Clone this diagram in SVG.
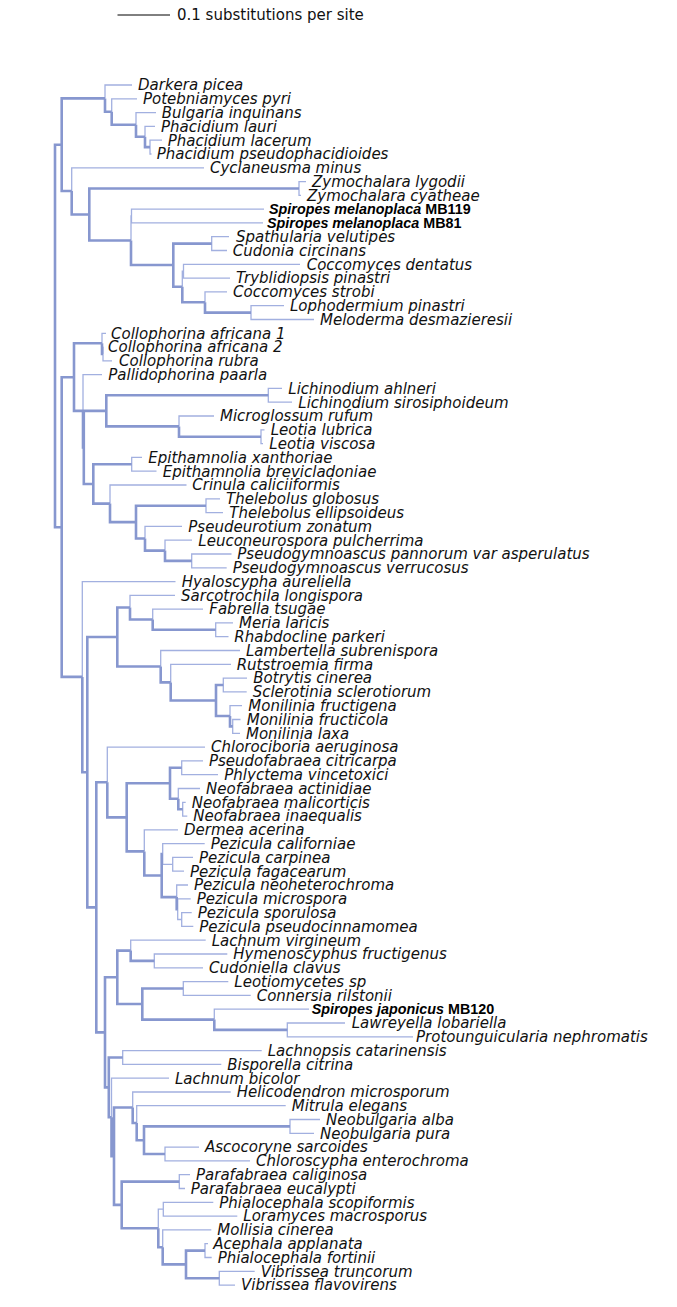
<svg xmlns="http://www.w3.org/2000/svg" width="677" height="1307" viewBox="0 0 677 1307">
<style>
.t{fill:none;stroke:#8797cf;stroke-width:2.6}
.n{fill:none;stroke:#a2b0e0;stroke-width:1.3}
.l{font-family:"DejaVu Sans","Noto Sans",sans-serif;font-style:italic;font-size:15px;fill:#111}
.b{font-family:"Liberation Sans",Arial,sans-serif;font-weight:bold;font-size:14.35px;fill:#000}
.s{font-family:"DejaVu Sans","Noto Sans",sans-serif;font-size:15px;fill:#111}
</style>
<rect width="677" height="1307" fill="#fff"/>
<g id="scale">
<path d="M117.5 15H170" stroke="#000" stroke-width="1"/>
<text class="s" x="177" y="20.3">0.1 substitutions per site</text>
</g>
<g id="connectors">
<path class="n" d="M105 98.4V85H132M111.7 111.7V98.8H137M136 124.7V112.6H156M145 136.8V126.4H155M150 147.1V140.2H162M150 147.1V154H151.5M71.7 191V167.8H204M299 188.5V181.6H306M299 188.5V195.3H301M131 240.5V216H131.5M131.5 216V209.1H264M131.5 216V222.9H263M211.7 243.6V236.7H229M211.7 243.6V250.5H227M182.3 286.7V271.2H183.5M183.5 271.2V264.3H300M183.5 271.2V278.1H230M205 302.2V291.9H227M251 312.6V305.7H284M251 312.6V319.5H314M102 343.3V333.3H106M103 354V347.1H103.5M103 354V360.9H112M83 410.9V374.7H102M268.3 395.3V388.4H282M268.3 395.3V402.2H292M179 426.4V416H214M261 436.7V429.8H264.5M261 436.7V443.6H263M131.7 464.3V457.4H142M131.7 464.3V471.2H156.5M110 503.6V485H186.5M206 505.7V498.8H220M206 505.7V512.6H223M145 538.5V526.4H182M165 550.6V540.2H192M191.7 560.9V554H231.5M191.7 560.9V567.8H226.7M82.3 676.9V581.6H175.5M130 607.5V595.4H175M152.7 619.5V609.1H203M215.7 629.8V622.9H233M215.7 629.8V636.7H228.5M160.7 666.5V650.5H240M170.7 682.4V664.3H231M223.3 685V678.1H247M223.3 685V691.9H246.7M230 716V705.7H242M232.7 726.4V719.5H240.5M232.7 726.4V733.3H240M107.3 782.3V747.1H205M181.7 767.8V760.9H203M181.7 767.8V774.7H218M178.3 798.8V788.5H200M182.7 809.2V802.3H185.7M182.7 809.2V816.1H187.3M144.3 851.4V829.8H178M162.7 854V843.6H204.7M162.7 854V864.3H172.7M172.7 864.3V857.4H193M172.7 864.3V871.2H184M176.7 897.1V885H188M177.7 909.2V898.8H190.7M177.7 909.2V919.5H181.7M181.7 919.5V912.6H191.7M181.7 919.5V926.4H193.3M130.7 950.6V940.2H205.7M154.3 960.9V954H227.3M154.3 960.9V967.8H203M183.3 988.5V981.6H228.3M183.3 988.5V995.4H250.7M214.3 1019.6V1009.2H309M287.3 1029.9V1023H345M287.3 1029.9V1036.8H413M122.7 1057.5V1050.6H261.7M122.7 1057.5V1064.4H221.3M111.5 1117.2V1078.2H169M132.7 1107.5V1092H230.7M136.7 1123V1105.7H285.7M290 1126.4V1119.5H320M290 1126.4V1133.3H314M165 1154V1147.1H199M165 1154V1160.9H250M179.3 1181.6V1174.7H190M179.3 1181.6V1188.5H185M158.3 1228.2V1209.2H163.3M163.3 1209.2V1202.3H213.3M163.3 1209.2V1216.1H237.3M162.7 1247.2V1229.9H211.3M205 1250.6V1243.7H208M205 1250.6V1257.5H211.7M219.3 1278.2V1271.3H254.7M219.3 1278.2V1285.1H235"/>
<path class="t" d="M55 336V144.7H61.7M55 336V527.2H61.7M61.7 144.7V98.4H105M61.7 144.7V191H71.7M105 98.4V111.7H111.7M111.7 111.7V124.7H136M136 124.7V136.8H145M145 136.8V147.1H150M71.7 191V214.5H89.3M89.3 214.5V188.5H299M89.3 214.5V240.5H131M131 240.5V265H173.3M173.3 265V243.6H211.7M173.3 265V286.7H182.3M182.3 286.7V302.2H205M205 302.2V312.6H251M61.7 527.2V377.3H74M61.7 527.2V676.9H82.3M74 377.3V343.3H102M74 377.3V410.9H83M102 343.3V354H103M83 410.9V447.5H83.8M83.8 447.5V410.9H106.3M83.8 447.5V484H93.3M106.3 410.9V395.3H268.3M106.3 410.9V426.4H179M179 426.4V436.7H261M93.3 484V464.3H131.7M93.3 484V503.6H110M110 503.6V522.1H136M136 522.1V505.7H206M136 522.1V538.5H145M145 538.5V550.6H165M165 550.6V560.9H191.7M82.3 676.9V772.2H87.3M87.3 772.2V637H117.3M87.3 772.2V907.4H96.3M117.3 637V607.5H130M117.3 637V666.5H160.7M130 607.5V619.5H152.7M152.7 619.5V629.8H215.7M160.7 666.5V682.4H170.7M170.7 682.4V700.5H216M216 700.5V685H223.3M216 700.5V716H230M230 716V726.4H232.7M96.3 907.4V782.3H107.3M96.3 907.4V1032.4H105M107.3 782.3V817.4H126.7M126.7 817.4V783.3H170M126.7 817.4V851.4H144.3M170 783.3V767.8H181.7M170 783.3V798.8H178.3M178.3 798.8V809.2H182.7M144.3 851.4V875.5H161.7M161.7 875.5V854H162.7M161.7 875.5V897.1H176.7M176.7 897.1V909.2H177.7M105 1032.4V977.3H117.3M105 1032.4V1087.4H108.8M117.3 977.3V950.6H130.7M117.3 977.3V1004H142.3M130.7 950.6V960.9H154.3M142.3 1004V988.5H183.3M142.3 1004V1019.6H214.3M214.3 1019.6V1029.9H287.3M108.8 1087.4V1057.5H122.7M108.8 1087.4V1117.2H111.5M111.5 1117.2V1156.2H114M114 1156.2V1107.5H132.7M114 1156.2V1204.9H121.7M132.7 1107.5V1123H136.7M136.7 1123V1140.2H144M144 1140.2V1126.4H290M144 1140.2V1154H165M121.7 1204.9V1181.6H179.3M121.7 1204.9V1228.2H158.3M158.3 1228.2V1247.2H162.7M162.7 1247.2V1264.4H186M186 1264.4V1250.6H205M186 1264.4V1278.2H219.3"/>
</g>
<g id="leaf01"><text class="l" x="138" y="90.3">Darkera picea</text></g>
<g id="leaf02"><text class="l" x="143" y="104.1">Potebniamyces pyri</text></g>
<g id="leaf03"><text class="l" x="161.7" y="117.9">Bulgaria inquinans</text></g>
<g id="leaf04"><text class="l" x="161" y="131.7">Phacidium lauri</text></g>
<g id="leaf05"><text class="l" x="167.7" y="145.5">Phacidium lacerum</text></g>
<g id="leaf06"><text class="l" x="156.7" y="159.3">Phacidium pseudophacidioides</text></g>
<g id="leaf07"><text class="l" x="210" y="173.1">Cyclaneusma minus</text></g>
<g id="leaf08"><text class="l" x="312" y="186.9">Zymochalara lygodii</text></g>
<g id="leaf09"><text class="l" x="307" y="200.6">Zymochalara cyatheae</text></g>
<g id="leaf10"><text class="b" x="269" y="214.2"><tspan font-style="italic">Spiropes melanoplaca</tspan> MB119</text></g>
<g id="leaf11"><text class="b" x="267" y="228"><tspan font-style="italic">Spiropes melanoplaca</tspan> MB81</text></g>
<g id="leaf12"><text class="l" x="236" y="242">Spathularia velutipes</text></g>
<g id="leaf13"><text class="l" x="232.7" y="255.8">Cudonia circinans</text></g>
<g id="leaf14"><text class="l" x="306.7" y="269.6">Coccomyces dentatus</text></g>
<g id="leaf15"><text class="l" x="236" y="283.4">Tryblidiopsis pinastri</text></g>
<g id="leaf16"><text class="l" x="233" y="297.2">Coccomyces strobi</text></g>
<g id="leaf17"><text class="l" x="290" y="311">Lophodermium pinastri</text></g>
<g id="leaf18"><text class="l" x="320" y="324.8">Meloderma desmazieresii</text></g>
<g id="leaf19"><text class="l" x="111" y="338.6">Collophorina africana 1</text></g>
<g id="leaf20"><text class="l" x="108" y="352.4">Collophorina africana 2</text></g>
<g id="leaf21"><text class="l" x="119" y="366.2">Collophorina rubra</text></g>
<g id="leaf22"><text class="l" x="108.3" y="380">Pallidophorina paarla</text></g>
<g id="leaf23"><text class="l" x="288.3" y="393.7">Lichinodium ahlneri</text></g>
<g id="leaf24"><text class="l" x="298.3" y="407.5">Lichinodium sirosiphoideum</text></g>
<g id="leaf25"><text class="l" x="220" y="421.3">Microglossum rufum</text></g>
<g id="leaf26"><text class="l" x="270.7" y="435.1">Leotia lubrica</text></g>
<g id="leaf27"><text class="l" x="269.3" y="448.9">Leotia viscosa</text></g>
<g id="leaf28"><text class="l" x="148.3" y="462.7">Epithamnolia xanthoriae</text></g>
<g id="leaf29"><text class="l" x="162.7" y="476.5">Epithamnolia brevicladoniae</text></g>
<g id="leaf30"><text class="l" x="192.3" y="490.3">Crinula caliciiformis</text></g>
<g id="leaf31"><text class="l" x="226" y="504.1">Thelebolus globosus</text></g>
<g id="leaf32"><text class="l" x="229.3" y="517.9">Thelebolus ellipsoideus</text></g>
<g id="leaf33"><text class="l" x="188.3" y="531.7">Pseudeurotium zonatum</text></g>
<g id="leaf34"><text class="l" x="198.3" y="545.5">Leuconeurospora pulcherrima</text></g>
<g id="leaf35"><text class="l" x="237.3" y="559.3">Pseudogymnoascus pannorum var asperulatus</text></g>
<g id="leaf36"><text class="l" x="232.7" y="573.1">Pseudogymnoascus verrucosus</text></g>
<g id="leaf37"><text class="l" x="181.7" y="586.9">Hyaloscypha aureliella</text></g>
<g id="leaf38"><text class="l" x="181" y="600.7">Sarcotrochila longispora</text></g>
<g id="leaf39"><text class="l" x="209.3" y="614.4">Fabrella tsugae</text></g>
<g id="leaf40"><text class="l" x="239" y="628.2">Meria laricis</text></g>
<g id="leaf41"><text class="l" x="234.3" y="642">Rhabdocline parkeri</text></g>
<g id="leaf42"><text class="l" x="246" y="655.8">Lambertella subrenispora</text></g>
<g id="leaf43"><text class="l" x="236.7" y="669.6">Rutstroemia firma</text></g>
<g id="leaf44"><text class="l" x="253.3" y="683.4">Botrytis cinerea</text></g>
<g id="leaf45"><text class="l" x="252.7" y="697.2">Sclerotinia sclerotiorum</text></g>
<g id="leaf46"><text class="l" x="248.3" y="711">Monilinia fructigena</text></g>
<g id="leaf47"><text class="l" x="246.7" y="724.8">Monilinia fructicola</text></g>
<g id="leaf48"><text class="l" x="246" y="738.6">Monilinia laxa</text></g>
<g id="leaf49"><text class="l" x="211" y="752.4">Chlorociboria aeruginosa</text></g>
<g id="leaf50"><text class="l" x="209" y="766.2">Pseudofabraea citricarpa</text></g>
<g id="leaf51"><text class="l" x="224.3" y="780">Phlyctema vincetoxici</text></g>
<g id="leaf52"><text class="l" x="206" y="793.8">Neofabraea actinidiae</text></g>
<g id="leaf53"><text class="l" x="191.7" y="807.6">Neofabraea malicorticis</text></g>
<g id="leaf54"><text class="l" x="193.3" y="821.4">Neofabraea inaequalis</text></g>
<g id="leaf55"><text class="l" x="184" y="835.1">Dermea acerina</text></g>
<g id="leaf56"><text class="l" x="210.7" y="848.9">Pezicula californiae</text></g>
<g id="leaf57"><text class="l" x="199" y="862.7">Pezicula carpinea</text></g>
<g id="leaf58"><text class="l" x="190" y="876.5">Pezicula fagacearum</text></g>
<g id="leaf59"><text class="l" x="194" y="890.3">Pezicula neoheterochroma</text></g>
<g id="leaf60"><text class="l" x="196.7" y="904.1">Pezicula microspora</text></g>
<g id="leaf61"><text class="l" x="197.7" y="917.9">Pezicula sporulosa</text></g>
<g id="leaf62"><text class="l" x="199.3" y="931.7">Pezicula pseudocinnamomea</text></g>
<g id="leaf63"><text class="l" x="211.7" y="945.5">Lachnum virgineum</text></g>
<g id="leaf64"><text class="l" x="233.3" y="959.3">Hymenoscyphus fructigenus</text></g>
<g id="leaf65"><text class="l" x="209" y="973.1">Cudoniella clavus</text></g>
<g id="leaf66"><text class="l" x="234.3" y="986.9">Leotiomycetes sp</text></g>
<g id="leaf67"><text class="l" x="256.7" y="1000.7">Connersia rilstonii</text></g>
<g id="leaf68"><text class="b" x="311.7" y="1014.3"><tspan font-style="italic">Spiropes japonicus</tspan> MB120</text></g>
<g id="leaf69"><text class="l" x="351.7" y="1028.3">Lawreyella lobariella</text></g>
<g id="leaf70"><text class="l" x="416" y="1042.1">Protounguicularia nephromatis</text></g>
<g id="leaf71"><text class="l" x="267.7" y="1055.9">Lachnopsis catarinensis</text></g>
<g id="leaf72"><text class="l" x="227.3" y="1069.7">Bisporella citrina</text></g>
<g id="leaf73"><text class="l" x="175" y="1083.5">Lachnum bicolor</text></g>
<g id="leaf74"><text class="l" x="236.7" y="1097.3">Helicodendron microsporum</text></g>
<g id="leaf75"><text class="l" x="291.7" y="1111">Mitrula elegans</text></g>
<g id="leaf76"><text class="l" x="326" y="1124.8">Neobulgaria alba</text></g>
<g id="leaf77"><text class="l" x="320" y="1138.6">Neobulgaria pura</text></g>
<g id="leaf78"><text class="l" x="205" y="1152.4">Ascocoryne sarcoides</text></g>
<g id="leaf79"><text class="l" x="256" y="1166.2">Chloroscypha enterochroma</text></g>
<g id="leaf80"><text class="l" x="196" y="1180">Parafabraea caliginosa</text></g>
<g id="leaf81"><text class="l" x="190.7" y="1193.8">Parafabraea eucalypti</text></g>
<g id="leaf82"><text class="l" x="219.3" y="1207.6">Phialocephala scopiformis</text></g>
<g id="leaf83"><text class="l" x="243.3" y="1221.4">Loramyces macrosporus</text></g>
<g id="leaf84"><text class="l" x="217.3" y="1235.2">Mollisia cinerea</text></g>
<g id="leaf85"><text class="l" x="213.3" y="1249">Acephala applanata</text></g>
<g id="leaf86"><text class="l" x="217.7" y="1262.8">Phialocephala fortinii</text></g>
<g id="leaf87"><text class="l" x="260.7" y="1276.6">Vibrissea truncorum</text></g>
<g id="leaf88"><text class="l" x="241" y="1290.4">Vibrissea flavovirens</text></g>
</svg>
